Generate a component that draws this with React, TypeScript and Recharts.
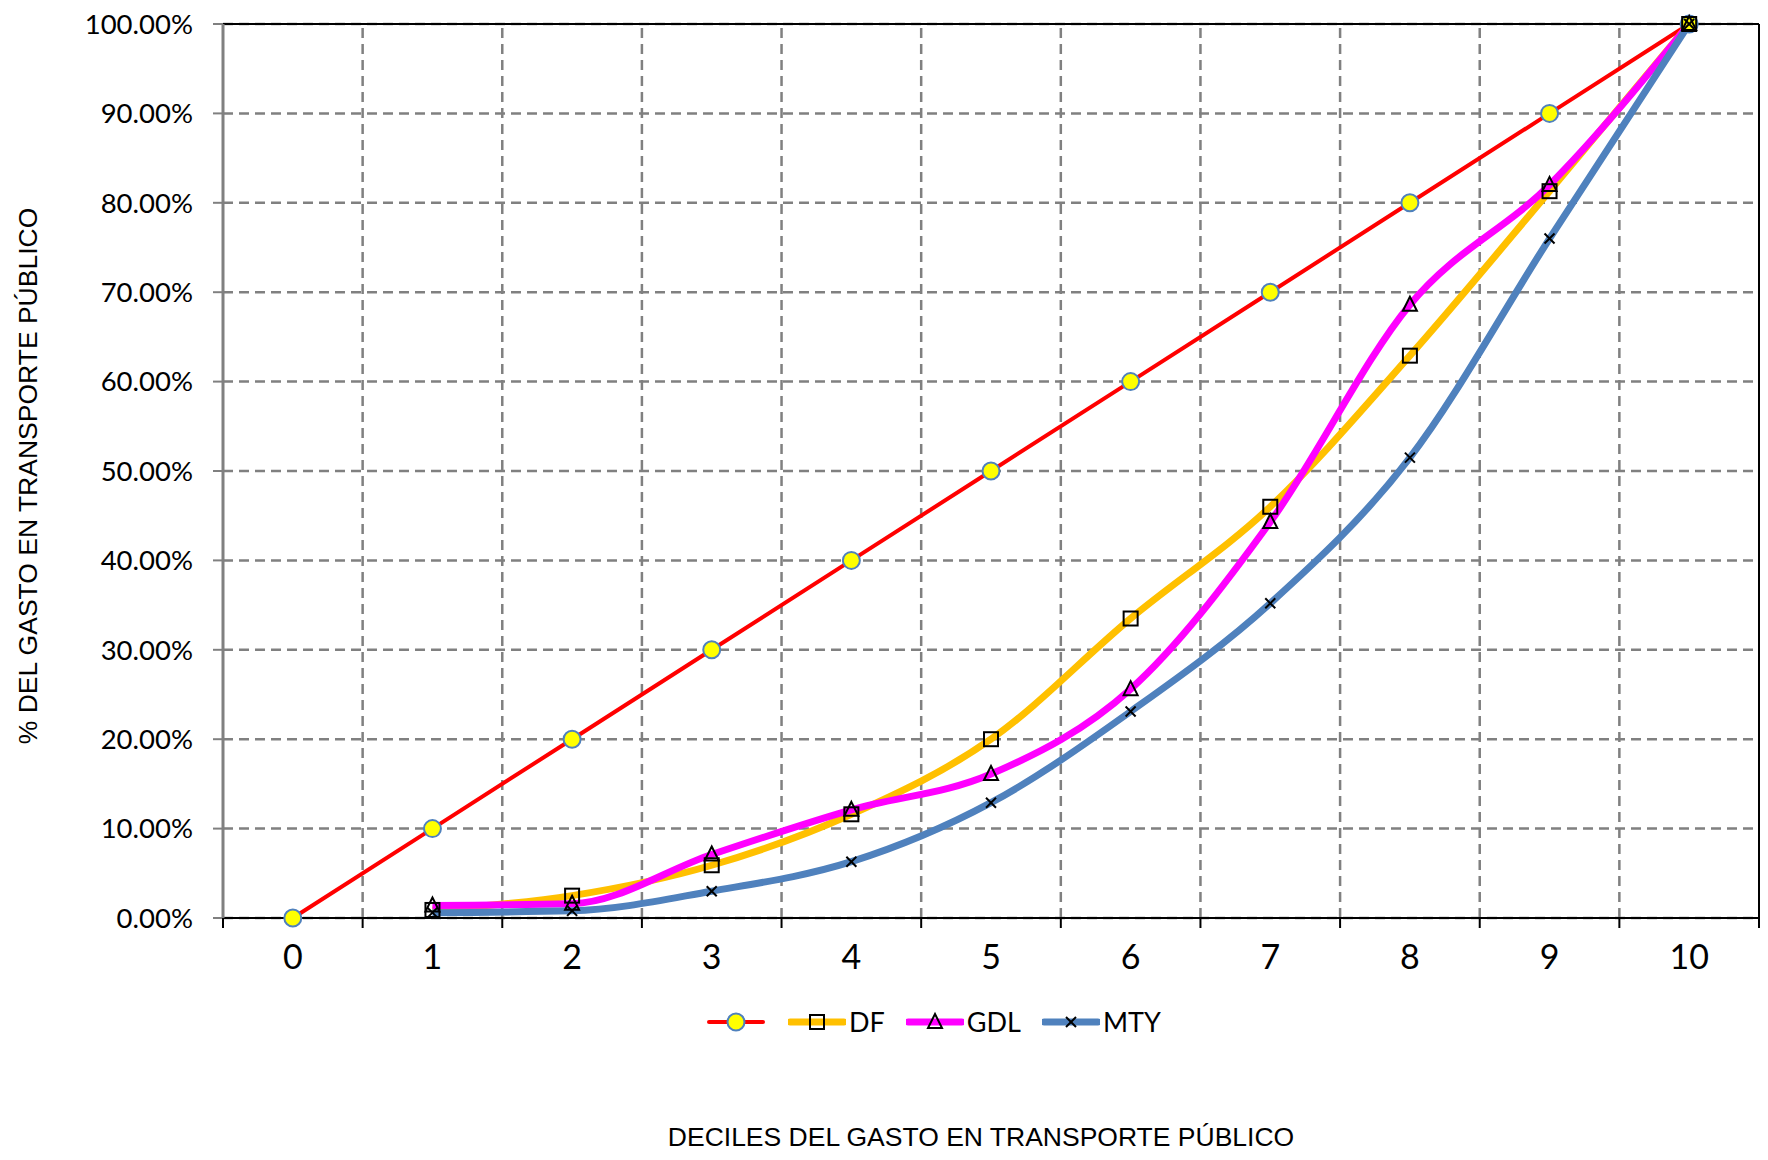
import { LineChart, Line, XAxis, YAxis, CartesianGrid, ReferenceLine } from 'recharts'

// deciles of public transport spending
const deciles = [0, 1, 2, 3, 4, 5, 6, 7, 8, 9, 10]

// cumulative share of spending (fraction of total)
const equality = [0, 0.1, 0.2, 0.3, 0.4, 0.5, 0.6, 0.7, 0.8, 0.9, 1.0]
const df = [null, 0.009, 0.025, 0.059, 0.116, 0.2, 0.335, 0.46, 0.629, 0.813, 1.0]
const gdl = [null, 0.014, 0.016, 0.071, 0.121, 0.161, 0.256, 0.443, 0.686, 0.82, 1.0]
const mty = [null, 0.006, 0.008, 0.03, 0.063, 0.129, 0.231, 0.352, 0.515, 0.76, 1.0]

const yTicks = [0, 0.1, 0.2, 0.3, 0.4, 0.5, 0.6, 0.7, 0.8, 0.9, 1.0]
// integer ticks carry labels, half ticks mark the category borders
const xTicks = [-0.5, 0, 0.5, 1, 1.5, 2, 2.5, 3, 3.5, 4, 4.5, 5, 5.5, 6, 6.5, 7, 7.5, 8, 8.5, 9, 9.5, 10, 10.5]
const borders = [0.5, 1.5, 2.5, 3.5, 4.5, 5.5, 6.5, 7.5, 8.5, 9.5]

const seriesNames = ['', 'DF', 'GDL', 'MTY']

type Marker = 'circle' | 'square' | 'triangle' | 'cross'

const series: { key: string; name: string; values: (number | null)[]; color: string; width: number; marker: Marker }[] = [
  { key: 'equality', name: seriesNames[0], values: equality, color: '#FF0000', width: 4, marker: 'circle' },
  { key: 'df', name: seriesNames[1], values: df, color: '#FFC000', width: 7, marker: 'square' },
  { key: 'gdl', name: seriesNames[2], values: gdl, color: '#FF00FF', width: 7, marker: 'triangle' },
  { key: 'mty', name: seriesNames[3], values: mty, color: '#4F81BD', width: 7, marker: 'cross' },
]

const data = deciles.map((d, i) => {
  const row: Record<string, number | null> = { decile: d }
  series.forEach(s => { row[s.key] = s.values[i] })
  return row
})

const LABEL_FONT = 'Lato, "Open Sans", sans-serif'
const TITLE_FONT = '"Liberation Sans", Arial, sans-serif'

function MarkerShape({ type, cx, cy }: { type: Marker; cx: number; cy: number }) {
  if (type === 'circle') {
    return <circle cx={cx} cy={cy} r={8.5} fill="#FFFF00" stroke="#4F81BD" strokeWidth={2} />
  }
  if (type === 'square') {
    return <rect x={cx - 7} y={cy - 7} width={14} height={14} fill="none" stroke="#000" strokeWidth={2} />
  }
  if (type === 'triangle') {
    return (
      <polygon
        points={`${cx},${cy - 8} ${cx + 7},${cy + 6} ${cx - 7},${cy + 6}`}
        fill="none"
        stroke="#000"
        strokeWidth={2}
      />
    )
  }
  return (
    <g stroke="#000" strokeWidth={2}>
      <line x1={cx - 5} y1={cy - 5} x2={cx + 5} y2={cy + 5} />
      <line x1={cx - 5} y1={cy + 5} x2={cx + 5} y2={cy - 5} />
    </g>
  )
}

const makeDot = (type: Marker) => (props: any) => {
  const { cx, cy, index, value } = props
  if (cx == null || cy == null || value == null) return <g key={`d-${index}`} />
  return (
    <g key={`d-${index}`}>
      <MarkerShape type={type} cx={cx} cy={cy} />
    </g>
  )
}

function DecileTick({ x, y, payload }: any) {
  const v = payload.value
  if (Number.isInteger(v)) {
    return (
      <text x={x} y={y + 51} textAnchor="middle" fontFamily={LABEL_FONT} fontSize={34} fill="#000">
        {v}
      </text>
    )
  }
  return <line x1={x} x2={x} y1={y} y2={y + 10} stroke="#000" strokeWidth={2} />
}

function LegendRow() {
  return (
    <div style={{ position: 'absolute', left: 707, top: 1003, display: 'flex', alignItems: 'center' }}>
      {series.map((s, i) => (
        <div key={s.key} style={{ display: 'flex', alignItems: 'center', marginRight: i === 0 ? 23 : 21 }}>
          <svg width={58} height={38}>
            <line x1={2} x2={56} y1={19} y2={19} stroke={s.color} strokeWidth={s.width} strokeLinecap="round" />
            <MarkerShape type={s.marker} cx={29} cy={19} />
          </svg>
          {s.name && (
            <span style={{ fontFamily: LABEL_FONT, fontSize: 27, color: '#000', marginLeft: 3, lineHeight: '38px' }}>
              {s.name}
            </span>
          )}
        </div>
      ))}
    </div>
  )
}

export default function App() {
  return (
    <div style={{ position: 'absolute', left: 0, top: 0, width: 1768, height: 1160, background: '#fff' }}>
      <LineChart width={1768} height={1160} data={data} margin={{ top: 24, right: 9, left: 123, bottom: 182 }}>
        <CartesianGrid vertical={false} stroke="#808080" strokeWidth={2.5} strokeDasharray="10 6" />
        {borders.map(b => (
          <ReferenceLine key={b} x={b} stroke="#808080" strokeWidth={2.5} strokeDasharray="10 6" />
        ))}
        <ReferenceLine y={1} stroke="#000" strokeWidth={2} />
        <ReferenceLine x={10.5} stroke="#000" strokeWidth={2} />
        <XAxis
          dataKey="decile"
          type="number"
          domain={[-0.5, 10.5]}
          ticks={xTicks}
          interval={0}
          tickLine={false}
          tickSize={0}
          tickMargin={0}
          height={60}
          axisLine={{ stroke: '#000', strokeWidth: 2 }}
          tick={<DecileTick />}
        />
        <YAxis
          type="number"
          domain={[0, 1]}
          ticks={yTicks}
          interval={0}
          width={100}
          tickSize={10}
          tickMargin={20}
          axisLine={{ stroke: '#808080', strokeWidth: 3 }}
          tickLine={{ stroke: '#808080', strokeWidth: 2 }}
          tick={{ fill: '#000', fontSize: 27.5, fontFamily: LABEL_FONT }}
          tickFormatter={(v: number) => `${(v * 100).toFixed(2)}%`}
        />
        {series.map(s => (
          <Line
            key={s.key}
            dataKey={s.key}
            name={s.name}
            type={s.marker === 'circle' ? 'linear' : 'monotone'}
            stroke={s.color}
            strokeWidth={s.width}
            dot={makeDot(s.marker)}
            activeDot={false}
            isAnimationActive={false}
          />
        ))}
      </LineChart>
      <svg width={1768} height={1160} style={{ position: 'absolute', left: 0, top: 0, pointerEvents: 'none' }}>
        <text
          x={0}
          y={0}
          transform="translate(37 476) rotate(-90)"
          textAnchor="middle"
          fontFamily={TITLE_FONT}
          fontSize={26.5}
          fill="#000"
        >
          % DEL GASTO EN TRANSPORTE PÚBLICO
        </text>
        <text x={981} y={1146} textAnchor="middle" fontFamily={TITLE_FONT} fontSize={26.5} fill="#000">
          DECILES DEL GASTO EN TRANSPORTE PÚBLICO
        </text>
      </svg>
      <LegendRow />
    </div>
  )
}
